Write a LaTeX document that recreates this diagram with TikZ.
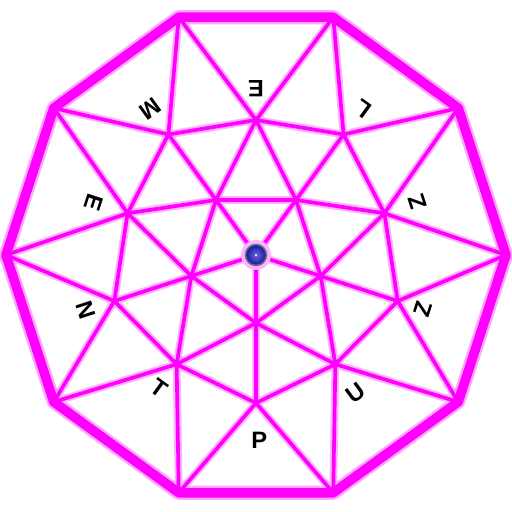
\documentclass[tikz,border=0pt]{standalone}
\usepackage{fontspec}
\setmainfont{Liberation Sans}
\definecolor{rimpink}{RGB}{255,0,255}
\definecolor{hubinner}{RGB}{105,105,235}
\definecolor{hubouter}{RGB}{20,20,135}

\begin{document}
\begin{tikzpicture}[
  x=0.02cm, y=0.02cm,
  rim/.style={draw=rimpink, line width=5.4pt, line join=round},
  rimglow/.style={draw=rimpink!35, line width=8pt, line join=round},
  edge/.style={draw=rimpink, line width=2.1pt, line join=round,
    preaction={draw=rimpink!30, line width=4.4pt, line join=round}},
  hub/.style={circle, minimum size=0.42cm, inner sep=0pt, draw=gray!85!blue, line width=0.9pt,
    inner color=hubinner, outer color=hubouter},
  letter/.style={font=\fontsize{13.5}{15}\selectfont\bfseries, inner sep=0pt}
]
\useasboundingbox (-256,-257) rectangle (256,255);

% outer rim
\coordinate (o1) at (108:250);
\coordinate (o2) at (72:250);
\coordinate (o3) at (36:250);
\coordinate (o4) at (0:250);
\coordinate (o5) at (-36:250);
\coordinate (o6) at (-72:250);
\coordinate (o7) at (-108:250);
\coordinate (o8) at (-144:250);
\coordinate (o9) at (180:250);
\coordinate (o10) at (144:250);

% middle ring
\coordinate (m1) at (90:135);
\coordinate (m2) at (54:149);
\coordinate (m3) at (18:135);
\coordinate (m4) at (-18:149);
\coordinate (m5) at (-54:135);
\coordinate (m6) at (-90:148);
\coordinate (m7) at (-126:135);
\coordinate (m8) at (-162:149);
\coordinate (m9) at (162:135);
\coordinate (m10) at (126:149);

% inner pentagon
\coordinate (c1) at (126:68);
\coordinate (c2) at (54:68);
\coordinate (c3) at (-18:68);
\coordinate (c4) at (-90:68);
\coordinate (c5) at (-162:68);
\coordinate (ctr) at (0,0);

\draw[rimglow] (o1) -- (o2) -- (o3) -- (o4) -- (o5) -- (o6) -- (o7) -- (o8) -- (o9) -- (o10) -- cycle;

\draw[edge]
  (m1) -- (m2) -- (m3) -- (m4) -- (m5) -- (m6) -- (m7) -- (m8) -- (m9) -- (m10) -- cycle
  (c1) -- (c2) -- (c3) -- (c4) -- (c5) -- cycle
  (o1) -- (m1) -- (o2) -- (m2) -- (o3) -- (m3) -- (o4) -- (m4) -- (o5) -- (m5)
    -- (o6) -- (m6) -- (o7) -- (m7) -- (o8) -- (m8) -- (o9) -- (m9) -- (o10) -- (m10) -- (o1)
  (m9) -- (c1) -- (m1) -- (c2) -- (m3) -- (c3) -- (m5) -- (c4) -- (m7) -- (c5) -- (m9)
  (c1) -- (m10)  (c2) -- (m2)  (c3) -- (m4)  (c4) -- (m6)  (c5) -- (m8)
  (ctr) -- (c1)  (ctr) -- (c2)  (ctr) -- (c3)  (ctr) -- (c4)  (ctr) -- (c5);

\draw[rim] (o1) -- (o2) -- (o3) -- (o4) -- (o5) -- (o6) -- (o7) -- (o8) -- (o9) -- (o10) -- cycle;

% centre ball
\fill[rimpink!30] (ctr) circle (15);
\node[hub] (ball) at (ctr) {};
\fill[white] (ball.center) circle (1.2);

% letters
\node[letter, rotate=0] (lp) at (-89:185) {P};
\node[letter, rotate=36] (lu) at (-54:170) {U};
\node[letter, rotate=72] (lz1) at (-18:176) {Z};
\node[letter, rotate=108] (lz2) at (18:170) {Z};
\node[letter, rotate=144] (ll) at (54:181) {L};
\node[letter, rotate=180] (le1) at (90:166) {E};
\node[letter, rotate=216] (lm) at (126:180) {M};
\node[letter, rotate=252] (le2) at (162:171) {E};
\node[letter, rotate=288] (ln) at (198:179) {N};
\node[letter, rotate=324] (lt) at (234:164) {T};

\end{tikzpicture}
\end{document}
